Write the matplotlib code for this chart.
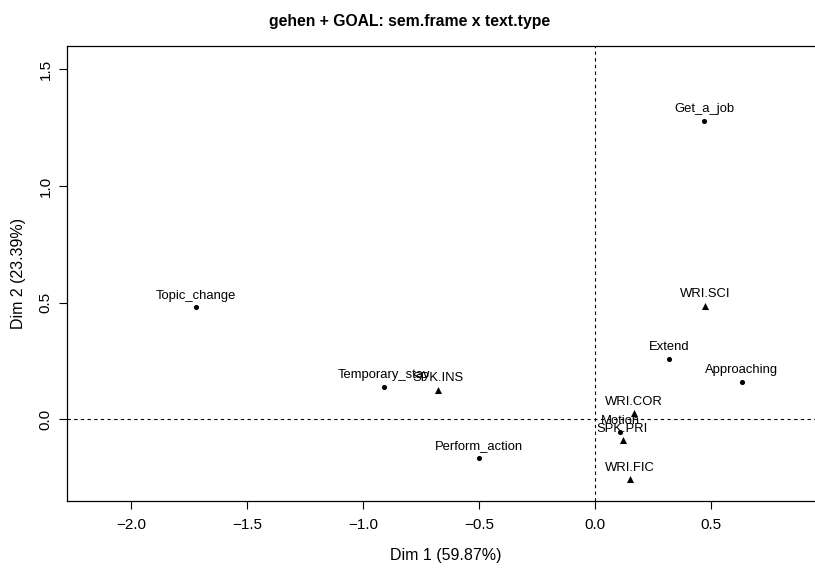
import matplotlib.pyplot as plt

plt.rcParams['font.family'] = ['Liberation Sans', 'DejaVu Sans']

# Row points (semantic frames)
frames = ['Get_a_job', 'Topic_change', 'Extend', 'Approaching', 'Temporary_stay',
          'Motion', 'Perform_action']
frame_dim1 = [0.470, -1.720, 0.319, 0.634, -0.909, 0.108, -0.500]
frame_dim2 = [1.279, 0.481, 0.259, 0.160, 0.139, -0.056, -0.166]

# Column points (text types)
types = ['WRI.SCI', 'SPK.INS', 'WRI.COR', 'SPK.PRI', 'WRI.FIC']
type_dim1 = [0.474, -0.677, 0.169, 0.119, 0.151]
type_dim2 = [0.486, 0.126, 0.026, -0.089, -0.257]

xticks = [-2.0, -1.5, -1.0, -0.5, 0.0, 0.5]
yticks = [0.0, 0.5, 1.0, 1.5]

fig = plt.figure(figsize=(8.15, 5.71), dpi=100)
ax = fig.add_axes([0.0818, 0.1226, 0.93, 0.7974])

ax.axhline(0, color='black', linestyle=(0, (3, 3)), linewidth=0.8)
ax.axvline(0, color='black', linestyle=(0, (3, 3)), linewidth=0.8)

ax.scatter(frame_dim1, frame_dim2, marker='o', s=7, color='black', zorder=3)
ax.scatter(type_dim1, type_dim2, marker='^', s=26, color='black', zorder=3,
           linewidths=0)

for name, x, y in zip(frames + types, frame_dim1 + type_dim1, frame_dim2 + type_dim2):
    ax.annotate(name, (x, y), xytext=(0, 4), textcoords='offset points',
                ha='center', va='bottom', fontsize=9.4)

ax.set_xlim(-2.277, 0.99)
ax.set_ylim(-0.350, 1.601)
ax.set_xticks(xticks)
ax.set_xticklabels([f'{t:.1f}'.replace('-', '\u2212') for t in xticks])
ax.set_yticks(yticks)
ax.set_yticklabels([f'{t:.1f}' for t in yticks], rotation=90, va='center')
ax.tick_params(direction='out', length=6, width=0.8, labelsize=11, pad=6)
ax.tick_params(axis='y', pad=4)
ax.spines['right'].set_visible(False)
for s in ['left', 'top', 'bottom']:
    ax.spines[s].set_linewidth(0.9)

ax.set_xlabel('Dim 1 (59.87%)', fontsize=11.5, labelpad=12)
ax.set_ylabel('Dim 2 (23.39%)', fontsize=11.5, labelpad=9)
fig.suptitle('gehen + GOAL: sem.frame x text.type', x=0.503, y=0.975,
             fontsize=11.3, fontweight='bold')

fig.savefig('out.png', dpi=100)
